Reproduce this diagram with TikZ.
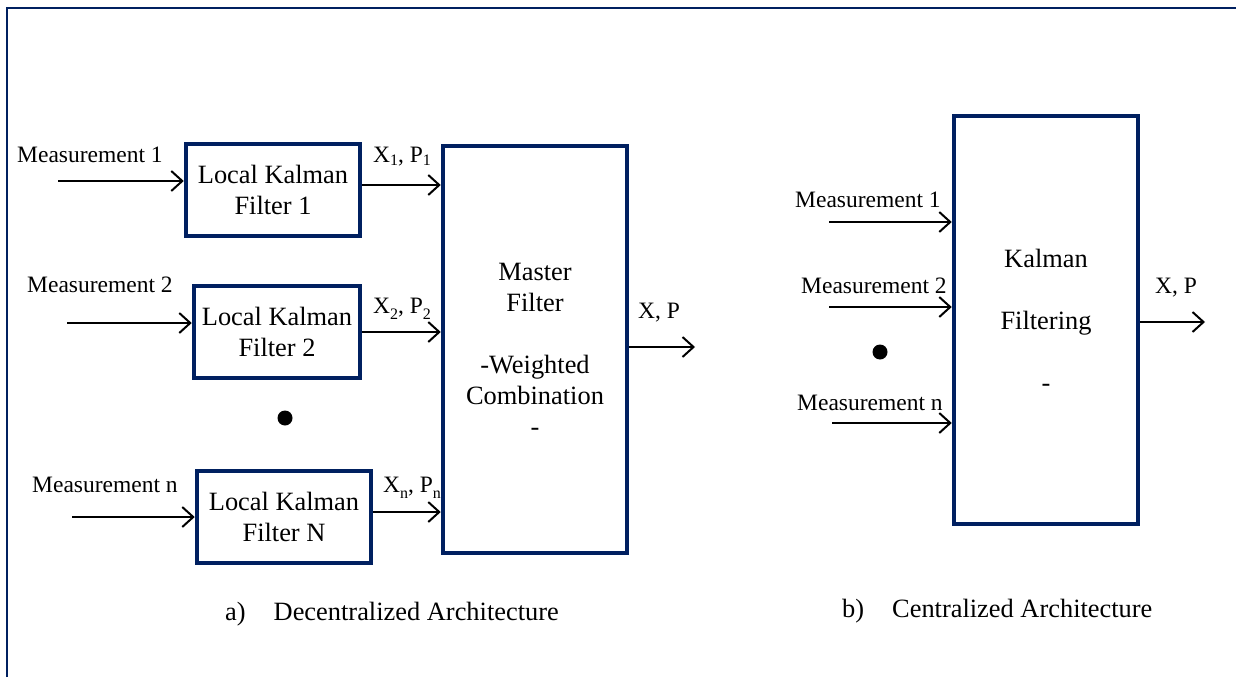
\documentclass[tikz,border=0pt]{standalone}
\usepackage{fontspec}
\setmainfont{Liberation Serif}
\usetikzlibrary{arrows.meta}
\definecolor{navy}{RGB}{0,32,96}
\newcommand\lblfont{\fontsize{23.5}{28}\selectfont}
\newcommand\boxfont{\fontsize{26.4}{31}\selectfont}
\newcommand\sub[2][-3pt]{\raisebox{#1}{\fontsize{16}{16}\selectfont #2}}

\begin{document}
\begin{tikzpicture}[x=1pt,y=-1pt,
  blk/.style={draw=navy,line width=4.5pt,inner sep=0pt,align=center,font=\boxfont},
  arr/.style={line width=2pt,-{Straight Barb[length=11pt,width=20pt]}},
  lab/.style={anchor=base west,inner sep=0pt,font=\lblfont},
  captext/.style={anchor=base west,inner sep=0pt,font=\boxfont},
  dot/.style={circle,fill=black,inner sep=0pt,minimum size=15pt}]

\useasboundingbox (0,0) rectangle (1236,677);

% outer frame (left and top edges)
\draw[navy,line width=2pt] (7,677) -- (7,8) -- (1236,8);

% ---------- decentralized architecture ----------
\node[blk,minimum width=174pt,minimum height=92pt] (lkf1) at (273,190) {Local Kalman\\Filter 1};
\node[blk,minimum width=166pt,minimum height=92pt] (lkf2) at (277,332) {Local Kalman\\Filter 2};
\node[blk,minimum width=174pt,minimum height=92pt] (lkfn) at (284,517) {Local Kalman\\Filter N};
\node[blk,minimum width=184pt,minimum height=407pt] (master) at (535,349.5)
  {Master\\Filter\\[31pt]-Weighted\\Combination\\-};

\node[dot] (dotA) at (285,418) {};

\coordinate (in1) at (58,181);
\coordinate (in2) at (67,323);
\coordinate (inn) at (72,517);
\coordinate (outA) at (695,347);

\draw[arr] (in1) -- (in1 -| lkf1.west);
\draw[arr] (in2) -- (in2 -| lkf2.west);
\draw[arr] (inn) -- (inn -| lkfn.west);

\coordinate (o1) at (0,185);
\coordinate (o2) at (0,332);
\coordinate (on) at (0,512);
\draw[arr] (o1 -| lkf1.east) -- (o1 -| master.west);
\draw[arr] (o2 -| lkf2.east) -- (o2 -| master.west);
\draw[arr] (on -| lkfn.east) -- (on -| master.west);
\draw[arr] (outA -| master.east) -- (outA);

\node[lab] (lm1) at (17,162) {Measurement 1};
\node[lab] (lm2) at (27,292) {Measurement 2};
\node[lab] (lmn) at (32,492) {Measurement n};
\node[lab] (lx1) at (373,162) {X\sub{1}, P\sub{1}};
\node[lab] (lx2) at (373,313) {X\sub[-6pt]{2}, P\sub[-6pt]{2}};
\node[lab] (lxn) at (383,492) {X\sub[-6pt]{n}, P\sub[-6pt]{n}};
\node[lab] (lxa) at (638,318) {X, P};

\node[captext] (capA) at (225,620) {a)\hspace{28pt}Decentralized Architecture};

% ---------- centralized architecture ----------
\node[blk,minimum width=184pt,minimum height=408pt] (kf) at (1046,320)
  {Kalman\\[31pt]Filtering\\[31pt]-};

\node[dot] (dotB) at (880,352) {};

\coordinate (k1) at (829,222);
\coordinate (k2) at (829,307);
\coordinate (kn) at (832,423);
\coordinate (outB) at (1205,322);

\draw[arr] (k1) -- (k1 -| kf.west);
\draw[arr] (k2) -- (k2 -| kf.west);
\draw[arr] (kn) -- (kn -| kf.west);
\draw[arr] (outB -| kf.east) -- (outB);

\node[lab] (km1) at (795,207) {Measurement 1};
\node[lab] (km2) at (801,293) {Measurement 2};
\node[lab] (kmn) at (797,410) {Measurement n};
\node[lab] (kxb) at (1155,293) {X, P};

\node[captext] (capB) at (842,617) {b)\hspace{28pt}Centralized Architecture};
\end{tikzpicture}
\end{document}
